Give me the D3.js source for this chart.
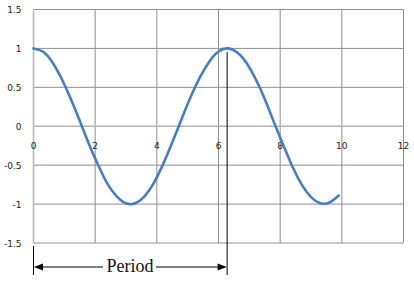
<!DOCTYPE html>
<html lang="en">
<head>
<meta charset="utf-8">
<title>Cosine period</title>
<script src="https://d3js.org/d3.v7.min.js"></script>
<style>
  body { margin: 0; background: #fff; }
  .tick-label { font-family: "DejaVu Sans", Verdana, sans-serif; font-size: 9px; fill: #1a1a1a; }
  .period-label { font-family: "Liberation Serif", "Times New Roman", serif; font-size: 18px; fill: #111; }
</style>
</head>
<body>
<script>
// values
var xValues = [0, 0.3, 0.6, 0.9, 1.2, 1.5, 1.8, 2.1, 2.4, 2.7, 3.0, 3.3, 3.6, 3.9, 4.2, 4.5, 4.8,
               5.1, 5.4, 5.7, 6.0, 6.3, 6.6, 6.9, 7.2, 7.5, 7.8, 8.1, 8.4, 8.7, 9.0, 9.3, 9.6, 9.9];
var yValues = [1.00, 0.96, 0.83, 0.62, 0.36, 0.07, -0.23, -0.50, -0.74, -0.90, -0.99, -0.99, -0.90, -0.73, -0.49, -0.21, 0.09,
               0.38, 0.63, 0.83, 0.96, 1.00, 0.95, 0.82, 0.61, 0.35, 0.05, -0.24, -0.52, -0.75, -0.91, -0.99, -0.98, -0.89];
var xTicks = [0, 2, 4, 6, 8, 10, 12];
var yTicks = [-1.5, -1, -0.5, 0, 0.5, 1, 1.5];
var periodStart = 0;
var periodEnd = 6.28;
var periodPeak = 1;
var periodText = "Period";

var width = 414, height = 306;

var svg = d3.select("body").append("svg")
  .attr("width", width)
  .attr("height", height);

var x = d3.scaleLinear().domain([0, 12]).range([33.5, 403.5]);
var y = d3.scaleLinear().domain([-1.5, 1.5]).range([243, 9.5]);

// gridlines
svg.append("g").selectAll("line.vg")
  .data(xTicks.filter(function(d) { return d !== 0; }))
  .enter().append("line")
  .attr("x1", function(d) { return x(d); })
  .attr("x2", function(d) { return x(d); })
  .attr("y1", y(1.5))
  .attr("y2", y(-1.5))
  .attr("stroke", "#8e8e8e")
  .attr("stroke-width", 1);

svg.append("g").selectAll("line.hg")
  .data(yTicks.filter(function(d) { return d !== 0; }))
  .enter().append("line")
  .attr("x1", x(0))
  .attr("x2", x(12))
  .attr("y1", function(d) { return y(d); })
  .attr("y2", function(d) { return y(d); })
  .attr("stroke", "#8e8e8e")
  .attr("stroke-width", 1);

// axes
svg.append("line")
  .attr("x1", x(0)).attr("x2", x(12))
  .attr("y1", y(0)).attr("y2", y(0))
  .attr("stroke", "#b4b4b4").attr("stroke-width", 1.5);
svg.append("line")
  .attr("x1", x(0)).attr("x2", x(0))
  .attr("y1", y(1.5)).attr("y2", y(-1.5))
  .attr("stroke", "#b4b4b4").attr("stroke-width", 1.5);

// tick labels
svg.append("g").selectAll("text")
  .data(xTicks)
  .enter().append("text")
  .attr("class", "tick-label")
  .attr("x", function(d) { return x(d); })
  .attr("y", y(0) + 22.5)
  .attr("text-anchor", "middle")
  .text(function(d) { return d; });

svg.append("g").selectAll("text")
  .data(yTicks)
  .enter().append("text")
  .attr("class", "tick-label")
  .attr("x", 21.5)
  .attr("y", function(d) { return y(d) + 3.5; })
  .attr("text-anchor", "end")
  .text(function(d) { return d; });

// curve
var line = d3.line()
  .x(function(d, i) { return x(xValues[i]); })
  .y(function(d) { return y(d); })
  .curve(d3.curveNatural);

svg.append("path")
  .datum(yValues)
  .attr("d", line)
  .attr("fill", "none")
  .attr("stroke", "#4a7ebb")
  .attr("stroke-width", 2.6)
  .attr("stroke-linecap", "round");

// period annotation
var arrowY = 267;
svg.append("line")
  .attr("x1", x(periodStart)).attr("x2", x(periodStart))
  .attr("y1", 246).attr("y2", 275)
  .attr("stroke", "#000").attr("stroke-width", 1);
svg.append("line")
  .attr("x1", x(periodEnd)).attr("x2", x(periodEnd))
  .attr("y1", y(periodPeak) + 3.5).attr("y2", 275)
  .attr("stroke", "#000").attr("stroke-width", 1);

svg.append("line")
  .attr("x1", x(periodStart) + 2).attr("x2", 103)
  .attr("y1", arrowY).attr("y2", arrowY)
  .attr("stroke", "#000").attr("stroke-width", 1);
svg.append("line")
  .attr("x1", 156).attr("x2", x(periodEnd) - 2)
  .attr("y1", arrowY).attr("y2", arrowY)
  .attr("stroke", "#000").attr("stroke-width", 1);

var xs = x(periodStart) + 0.5, xe = x(periodEnd) - 0.5;
svg.append("path")
  .attr("d", "M" + xs + "," + arrowY + "L" + (xs + 9) + "," + (arrowY - 3.5) + "L" + (xs + 9) + "," + (arrowY + 3.5) + "Z")
  .attr("fill", "#000");
svg.append("path")
  .attr("d", "M" + xe + "," + arrowY + "L" + (xe - 9) + "," + (arrowY - 3.5) + "L" + (xe - 9) + "," + (arrowY + 3.5) + "Z")
  .attr("fill", "#000");

svg.append("text")
  .attr("class", "period-label")
  .attr("x", 130)
  .attr("y", 272)
  .attr("text-anchor", "middle")
  .text(periodText);
</script>
</body>
</html>
